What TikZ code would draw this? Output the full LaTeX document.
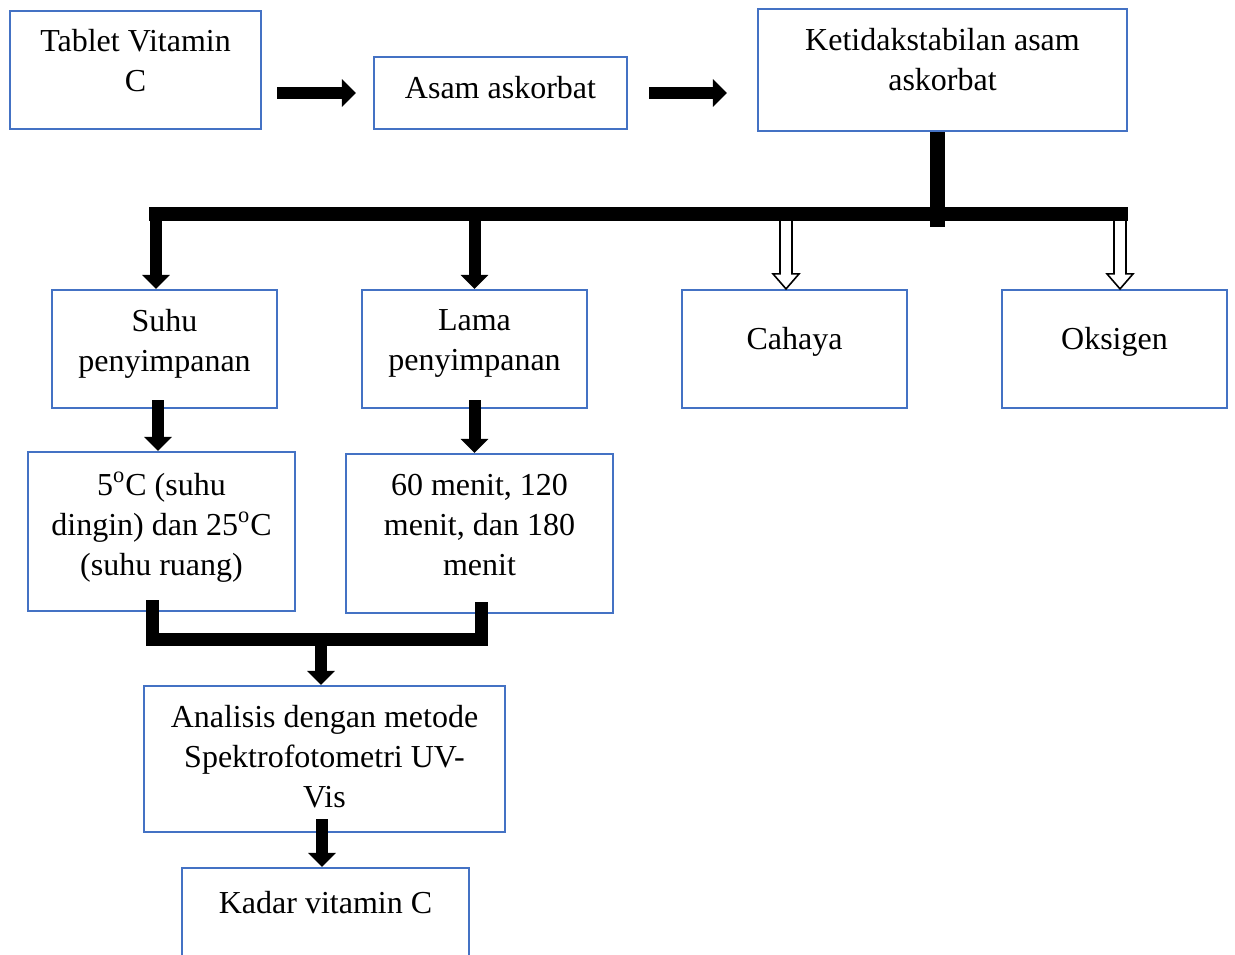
\documentclass[tikz,border=0pt]{standalone}
\usepackage{fontspec}
\setmainfont{Liberation Serif}
\usepackage{tikz}
\usetikzlibrary{arrows.meta,calc}
\definecolor{boxblue}{RGB}{68,114,196}
\tikzstyle{every node}=[font=\fontsize{16}{20}\selectfont]
\tikzstyle{box}=[draw=boxblue,
                 line width=1.1pt,
                 inner sep=0pt]
\tikzstyle{txt}=[anchor=north,
                 align=center,
                 inner sep=0pt]
\tikzstyle{fatarrow}=[line width=6pt,
                      -{Triangle[length=7pt,width=13.5pt]}]
\tikzstyle{bar}=[line width=7pt]
\tikzstyle{hollow}=[line width=0.8pt,
                    fill=white,
                    line join=miter]
% hollow arrow pointing down: #1 top, #2 tip
\newcommand{\hollowdown}[2]{%
  \draw[hollow] ($(#1)+(-6,0)$) -- ($(#2)+(-6,-15)$) -- ($(#2)+(-13,-15)$) -- (#2)
     -- ($(#2)+(13,-15)$) -- ($(#2)+(6,-15)$) -- ($(#1)+(6,0)$) -- cycle;}

\begin{document}
\begin{tikzpicture}[x=0.5pt,y=-0.5pt]
\clip (0,0) rectangle (1235,954);
% boxes
\node (tab)   [box,minimum width=125.5pt,minimum height=59pt] at (135.5,70) {};
\node (asam)  [box,minimum width=126.5pt,minimum height=36pt] at (500.5,93) {};
\node (keti)  [box,minimum width=184.5pt,minimum height=61pt] at (942.5,70) {};
\node (suhu)  [box,minimum width=112.5pt,minimum height=59pt] at (164.5,349) {};
\node (lama)  [box,minimum width=112.5pt,minimum height=59pt] at (474.5,349) {};
\node (cah)   [box,minimum width=112.5pt,minimum height=59pt] at (794.5,349) {};
\node (oks)   [box,minimum width=112.5pt,minimum height=59pt] at (1114.5,349) {};
\node (deg)   [box,minimum width=133.5pt,minimum height=79.5pt] at (161.5,531.5) {};
\node (men)   [box,minimum width=133.5pt,minimum height=79.5pt] at (479.5,533.5) {};
\node (anal)  [box,minimum width=180.5pt,minimum height=73pt] at (324.5,759) {};
\node (kadar) [box,minimum width=143.5pt,minimum height=66pt] at (325.5,934) {};
% texts
\node (tab-t)   [txt] at ($(tab.north)+(0,19)$) {Tablet Vitamin\\C};
\node (asam-t)  [txt] at ($(asam.north)+(0,20)$) {Asam askorbat};
\node (keti-t)  [txt] at ($(keti.north)+(0,20)$) {Ketidakstabilan asam\\askorbat};
\node (suhu-t)  [txt] at ($(suhu.north)+(0,20)$) {Suhu\\penyimpanan};
\node (lama-t)  [txt] at ($(lama.north)+(0,20)$) {Lama\\penyimpanan};
\node (cah-t)   [txt] at ($(cah.north)+(0,38)$) {Cahaya};
\node (oks-t)   [txt] at ($(oks.north)+(0,38)$) {Oksigen};
\node (deg-t)   [txt] at ($(deg.north)+(0,21)$) {5\textsuperscript{o}C (suhu\\dingin) dan 25\textsuperscript{o}C\\(suhu ruang)};
\node (men-t)   [txt] at ($(men.north)+(0,21)$) {60 menit, 120\\menit, dan 180\\menit};
\node (anal-t)  [txt] at ($(anal.north)+(0,20)$) {Analisis dengan metode\\Spektrofotometri UV-\\Vis};
\node (kadar-t) [txt] at ($(kadar.north)+(0,24)$) {Kadar vitamin C};
% top row
\draw[fatarrow] ($(tab.east |- asam.west)+(15,0)$) -- ($(asam.west)+(-17,0)$);
\draw[fatarrow] ($(asam.east)+(21,0)$) -- ($(keti.west |- asam.east)+(-30,0)$);
% split into four factors
\coordinate (fork) at ($(keti.south)+(-5,84)$);
\coordinate (cahtop) at ($(cah.north)+(-8.5,-75)$);
\coordinate (okstop) at ($(oks.north)+(5.5,-75)$);
\hollowdown{cahtop}{$(cah.north)+(-8.5,0)$}
\hollowdown{okstop}{$(oks.north)+(5.5,0)$}
\draw[fatarrow] ($(suhu.north)+(-8.5,-75)$) -- ($(suhu.north)+(-8.5,0)$);
\draw[fatarrow] ($(lama.north)+(0,-75)$) -- (lama.north);
\draw[bar] ($(suhu.north)+(-15.5,-75)$) -- ($(oks.north)+(13.5,-75)$);
\draw[line width=7.5pt] ($(keti.south)+(-5,0)$) -- ($(fork)+(0,11)$);
% down the two branches
\draw[fatarrow] ($(suhu.south)+(-6.5,-9)$) -- ($(deg.north -| suhu.south)+(-6.5,0)$);
\draw[fatarrow] ($(lama.south)+(0,-9)$) -- (men.north -| lama.south);
%\draw[fatarrow] (deg) -- (anal);
\draw[line width=6.5pt,line join=miter]
  ($(deg.south)+(-9.5,-12)$) |- ($(anal.north)+(0,-45)$) -| ($(men.south)+(1.5,-12)$);
\draw[fatarrow] ($(anal.north)+(-3.5,-52)$) -- ($(anal.north)+(-3.5,0)$);
\draw[fatarrow] ($(anal.south)+(-2.5,-14)$) -- ($(kadar.north)+(-3.5,0)$);
\end{tikzpicture}
\end{document}
